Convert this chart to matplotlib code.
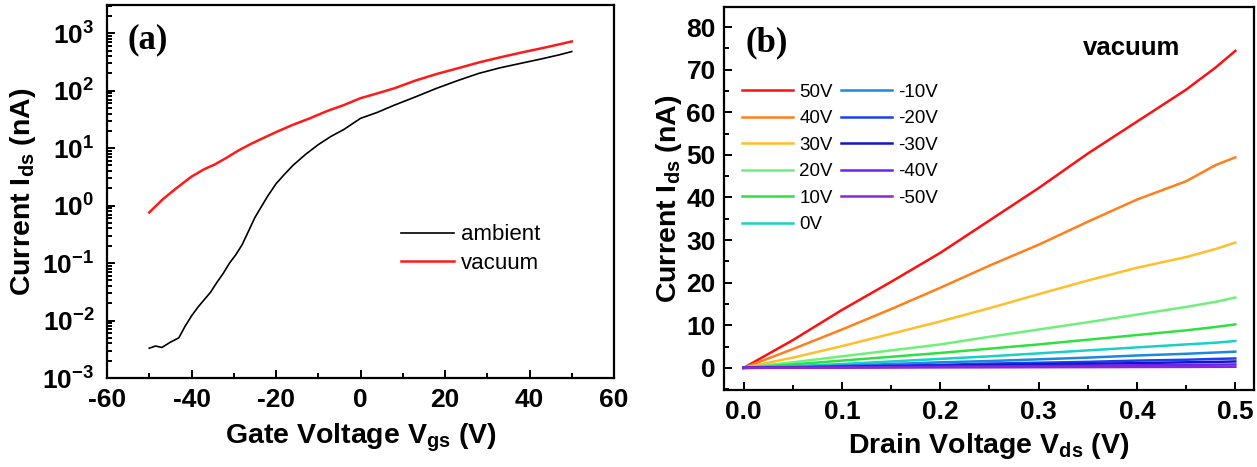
"""Transfer (a) and output (b) curves of the FET, ambient vs vacuum."""

import matplotlib
matplotlib.use("Agg")
import matplotlib.pyplot as plt
from matplotlib.ticker import (MultipleLocator, LogLocator, NullFormatter,
                               FormatStrFormatter)

# ---------------------------------------------------------------------------
# Data
# ---------------------------------------------------------------------------

# (a) transfer curves, Ids (nA) vs Vgs (V)
vgs_ambient = [-50, -48.5, -47, -45, -43, -41.5, -40, -38.5, -37, -35.5, -34, -32.5,
               -31, -29.5, -28, -26.5, -25, -23.5, -22, -20, -18, -16, -13, -10,
               -7, -4, 0, 4, 8, 13, 18, 23, 28, 33, 38, 43, 47, 50]
ids_ambient = [0.0033, 0.0036, 0.0034, 0.0042, 0.0050, 0.0080, 0.012, 0.017, 0.023,
               0.031, 0.046, 0.066, 0.10, 0.14, 0.21, 0.36, 0.62, 0.95, 1.45, 2.4,
               3.5, 5.0, 7.8, 11.5, 16, 21, 33, 42, 56, 78, 110, 150, 200, 250,
               300, 360, 420, 480]

vgs_vacuum = [-50, -47, -44, -40, -37, -34.5, -32, -29, -26, -23, -20, -16, -12,
              -8, -4, 0, 4, 8, 13, 18, 23, 28, 33, 38, 43, 47, 50]
ids_vacuum = [0.76, 1.25, 1.9, 3.2, 4.3, 5.2, 6.6, 9.0, 11.8, 15.0, 19.0, 25.5,
              33, 44, 56, 74, 90, 110, 150, 195, 245, 310, 380, 460, 550, 640, 720]

# (b) output curves, Ids (nA) vs Vds (V) for each gate voltage
vds = [0, 0.05, 0.1, 0.15, 0.2, 0.25, 0.3, 0.35, 0.4, 0.45, 0.48, 0.5]
gate_labels = ["50V", "40V", "30V", "20V", "10V", "0V",
               "-10V", "-20V", "-30V", "-40V", "-50V"]
ids_out = [
    [0, 6.5, 13.6, 20.2, 27.0, 34.6, 42.2, 50.3, 57.8, 65.3, 70.5, 74.4],
    [0, 4.4, 9.0, 13.8, 18.8, 24.0, 28.9, 34.3, 39.5, 43.8, 47.6, 49.4],
    [0, 2.4, 5.1, 8.0, 10.9, 14.0, 17.3, 20.5, 23.5, 26.0, 27.9, 29.4],
    [0, 1.3, 2.7, 4.1, 5.5, 7.3, 9.0, 10.7, 12.5, 14.3, 15.5, 16.5],
    [0, 0.8, 1.7, 2.6, 3.5, 4.5, 5.5, 6.6, 7.7, 8.8, 9.6, 10.2],
    [0, 0.4, 0.9, 1.5, 2.1, 2.7, 3.4, 4.1, 4.8, 5.5, 5.9, 6.3],
    [0, 0.2, 0.5, 0.9, 1.3, 1.6, 2.0, 2.4, 2.9, 3.3, 3.6, 3.8],
    [0, 0.1, 0.3, 0.5, 0.7, 1.0, 1.2, 1.4, 1.7, 1.9, 2.1, 2.2],
    [0, 0.1, 0.2, 0.35, 0.5, 0.65, 0.8, 0.95, 1.1, 1.3, 1.4, 1.5],
    [0, 0.05, 0.1, 0.2, 0.3, 0.35, 0.4, 0.5, 0.6, 0.7, 0.75, 0.8],
    [0, 0.02, 0.05, 0.07, 0.1, 0.12, 0.15, 0.17, 0.2, 0.22, 0.24, 0.25],
]
gate_colors = ["#ff1010", "#ff7f1a", "#ffbf2a", "#6ef07a", "#30e040", "#18d0c8",
               "#1a8ae0", "#1a40f0", "#1414c8", "#6a22f0", "#8a28d8"]

# ---------------------------------------------------------------------------
# Style
# ---------------------------------------------------------------------------

plt.rcParams["font.family"] = ["Liberation Sans", "DejaVu Sans"]
plt.rcParams["mathtext.fontset"] = "custom"
plt.rcParams["mathtext.rm"] = "Liberation Sans:bold"
plt.rcParams["mathtext.it"] = "Liberation Sans:bold"
plt.rcParams["mathtext.bf"] = "Liberation Sans:bold"
plt.rcParams["axes.unicode_minus"] = False

TICK_FS = 19
LABEL_FS = 20.5
W, H = 1257, 467


def frame(ax):
    for s in ax.spines.values():
        s.set_linewidth(1.6)
    ax.tick_params(which="both", direction="in", top=False, right=False,
                   width=1.4, labelsize=TICK_FS)
    ax.tick_params(which="major", length=6)
    ax.tick_params(which="minor", length=3.5)
    ax.tick_params(axis="x", pad=7)
    for lab in ax.get_xticklabels() + ax.get_yticklabels():
        lab.set_fontweight("bold")


def rect(left, top, right, bottom):
    return [left / W, 1 - bottom / H, (right - left) / W, (bottom - top) / H]


fig = plt.figure(figsize=(W / 100, H / 100), dpi=100)

# ---------------------------------------------------------------------------
# (a) transfer
# ---------------------------------------------------------------------------
ax1 = fig.add_axes(rect(107, 5, 614, 378))
ax1.semilogy(vgs_ambient, ids_ambient, color="black", lw=1.2, label="ambient")
ax1.semilogy(vgs_vacuum, ids_vacuum, color="#ff1a1a", lw=1.8, label="vacuum")
ax1.set_xlim(-60, 60)
ax1.set_ylim(1e-3, 3.1e3)
ax1.xaxis.set_major_locator(MultipleLocator(20))
ax1.xaxis.set_minor_locator(MultipleLocator(10))
ax1.yaxis.set_major_locator(LogLocator(base=10, numticks=20))
ax1.yaxis.set_minor_locator(LogLocator(base=10, subs=range(2, 10), numticks=20))
ax1.yaxis.set_minor_formatter(NullFormatter())
frame(ax1)
ax1.tick_params(axis="y", pad=9)
ax1.set_xlabel("Gate Voltage V$_{gs}$ (V)", fontsize=LABEL_FS, fontweight="bold",
               labelpad=7)
ax1.set_ylabel("Current I$_{ds}$ (nA)", fontsize=LABEL_FS, fontweight="bold",
               labelpad=3)
ax1.text(0.04, 0.95, "(a)", transform=ax1.transAxes, fontsize=25,
         fontweight="bold", family="Liberation Serif", va="top")
ax1.legend(loc="center left", bbox_to_anchor=(0.58, 0.345), frameon=False,
           fontsize=16, handlelength=2.4, handletextpad=0.3, labelspacing=0.35,
           borderpad=0, borderaxespad=0)

# ---------------------------------------------------------------------------
# (b) output
# ---------------------------------------------------------------------------
ax2 = fig.add_axes(rect(724, 7, 1254, 390))
for lab, col, ys in zip(gate_labels, gate_colors, ids_out):
    ax2.plot(vds, ys, color=col, lw=1.8, label=lab)
ax2.set_xlim(-0.02, 0.519)
ax2.set_ylim(-5.2, 84.7)
ax2.xaxis.set_major_locator(MultipleLocator(0.1))
ax2.xaxis.set_minor_locator(MultipleLocator(0.05))
ax2.yaxis.set_major_locator(MultipleLocator(10))
ax2.yaxis.set_minor_locator(MultipleLocator(5))
ax2.xaxis.set_major_formatter(FormatStrFormatter("%.1f"))
frame(ax2)
ax2.tick_params(axis="y", pad=6)
ax2.set_xlabel("Drain Voltage V$_{ds}$ (V)", fontsize=LABEL_FS, fontweight="bold",
               labelpad=5)
ax2.set_ylabel("Current I$_{ds}$ (nA)", fontsize=LABEL_FS, fontweight="bold",
               labelpad=2)
ax2.text(0.04, 0.95, "(b)", transform=ax2.transAxes, fontsize=25,
         fontweight="bold", family="Liberation Serif", va="top")
ax2.text(0.677, 0.925, "vacuum", transform=ax2.transAxes, fontsize=18.5,
         fontweight="bold", va="top")
ax2.legend(loc="upper left", bbox_to_anchor=(0.034, 0.80), frameon=False,
           ncol=2, fontsize=13.5, handlelength=2.7, handletextpad=0.35,
           labelspacing=0.5, columnspacing=0.45, borderpad=0, borderaxespad=0)

fig.savefig("out.png", dpi=100)
